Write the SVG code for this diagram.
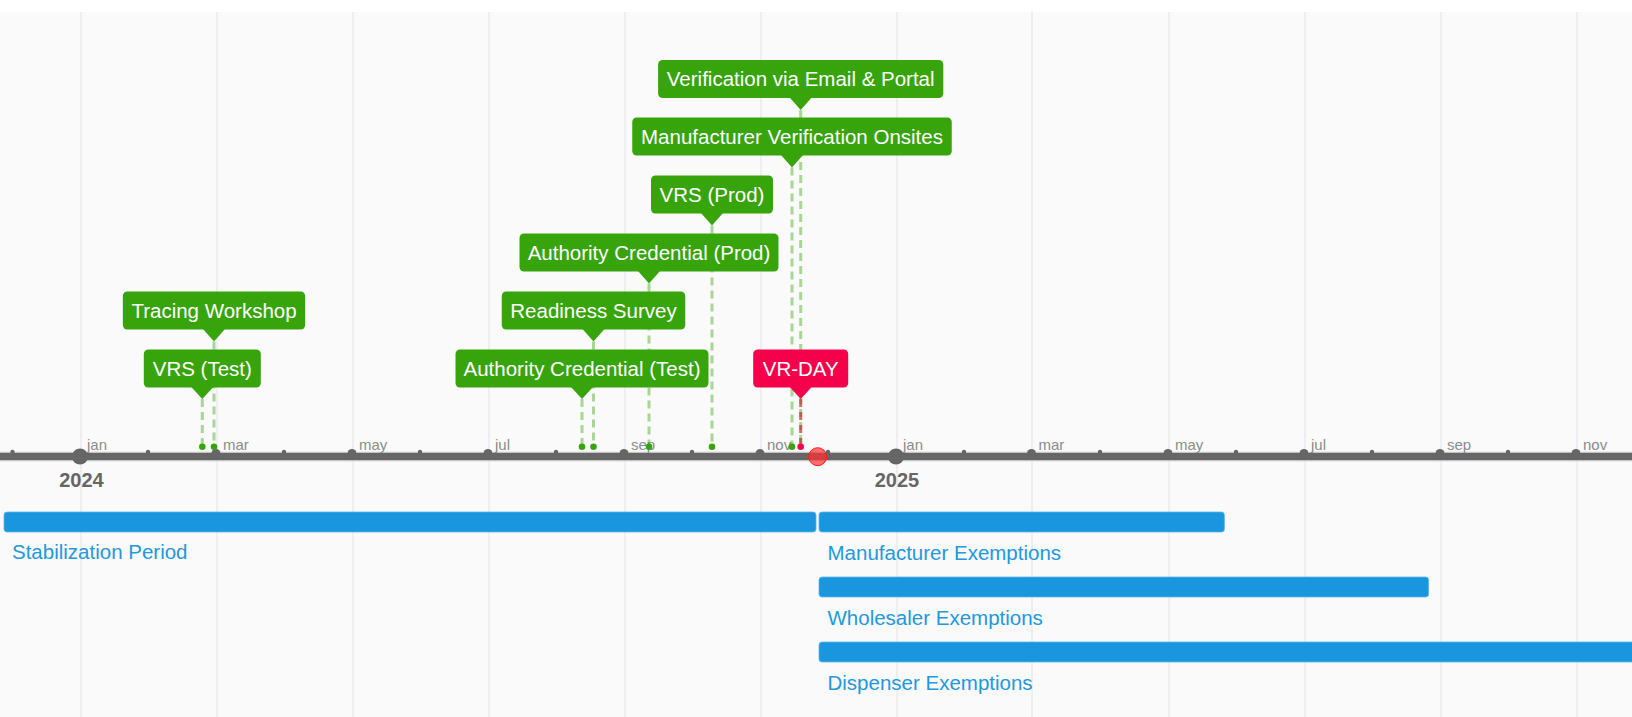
<svg xmlns="http://www.w3.org/2000/svg" width="1632" height="717" viewBox="0 0 1632 717">
<style>
.grid{stroke:#e6e6e6;stroke-width:1.2}
.month{font-family:"Liberation Sans",Arial,sans-serif;font-size:15px;fill:#8c8c8c}
.year{font-family:"Liberation Sans",Arial,sans-serif;font-size:20px;font-weight:bold;fill:#666}
.major{fill:#666}
.minor{fill:#666}
.box{fill:#37a40c}
.boxred{fill:#f5004a}
.btxt{font-family:"Liberation Sans",Arial,sans-serif;font-size:20.5px;fill:#fff;text-anchor:middle}
.conn{stroke:#37a40c;stroke-opacity:0.42;stroke-width:3;stroke-dasharray:8 5;fill:none}
.connred{stroke:#b8322e;stroke-opacity:0.7;stroke-width:3;stroke-dasharray:8 5;fill:none}
.dot{fill:#37a40c}
.dotred{fill:#f5004a}
.bar{fill:#1996dd;stroke:#5bb5ea;stroke-width:0.8}
.btl{font-family:"Liberation Sans",Arial,sans-serif;font-size:20.5px;fill:#2298dd}
</style>
<rect x="0" y="0" width="1632" height="717" fill="#ffffff"/>
<rect x="0" y="12" width="1632" height="705" fill="#fafafa"/>
<g id="grid">
<line class="grid" x1="81" y1="12" x2="81" y2="717"/>
<line class="grid" x1="217" y1="12" x2="217" y2="717"/>
<line class="grid" x1="353" y1="12" x2="353" y2="717"/>
<line class="grid" x1="489" y1="12" x2="489" y2="717"/>
<line class="grid" x1="625" y1="12" x2="625" y2="717"/>
<line class="grid" x1="761" y1="12" x2="761" y2="717"/>
<line class="grid" x1="897" y1="12" x2="897" y2="717"/>
<line class="grid" x1="1032" y1="12" x2="1032" y2="717"/>
<line class="grid" x1="1169" y1="12" x2="1169" y2="717"/>
<line class="grid" x1="1305" y1="12" x2="1305" y2="717"/>
<line class="grid" x1="1441" y1="12" x2="1441" y2="717"/>
<line class="grid" x1="1577" y1="12" x2="1577" y2="717"/>
</g>
<g id="ranges">
<g id="stabilization">
<rect class="bar" x="4" y="512" width="812" height="20" rx="3"/>
<text class="btl" x="12" y="559">Stabilization Period</text>
</g>
<g id="manufacturer-exemptions">
<rect class="bar" x="819" y="512" width="405.4" height="20" rx="3"/>
<text class="btl" x="827.5" y="559.5">Manufacturer Exemptions</text>
</g>
<g id="wholesaler-exemptions">
<rect class="bar" x="819" y="577" width="609.6" height="20" rx="3"/>
<text class="btl" x="827.5" y="624.5">Wholesaler Exemptions</text>
</g>
<g id="dispenser-exemptions">
<rect class="bar" x="819" y="642" width="830" height="20" rx="3"/>
<text class="btl" x="827.5" y="689.5">Dispenser Exemptions</text>
</g>
</g>
<g id="axis">
<line x1="0" y1="456.5" x2="1632" y2="456.5" stroke="#c4c4c4" stroke-width="9.5"/>
<line x1="0" y1="456.5" x2="1632" y2="456.5" stroke="#666" stroke-width="7"/>
<circle class="minor" cx="12.5" cy="452" r="2.2"/>
<circle class="minor" cx="148" cy="452" r="2.2"/>
<circle class="minor" cx="284" cy="452" r="2.2"/>
<circle class="minor" cx="420" cy="452" r="2.2"/>
<circle class="minor" cx="556" cy="452" r="2.2"/>
<circle class="minor" cx="692" cy="452" r="2.2"/>
<circle class="minor" cx="828" cy="452" r="2.2"/>
<circle class="minor" cx="964" cy="452" r="2.2"/>
<circle class="minor" cx="1100" cy="452" r="2.2"/>
<circle class="minor" cx="1236" cy="452" r="2.2"/>
<circle class="minor" cx="1372" cy="452" r="2.2"/>
<circle class="minor" cx="1508" cy="452" r="2.2"/>
<circle class="major" cx="216" cy="453.5" r="4.5"/>
<circle class="major" cx="352" cy="453.5" r="4.5"/>
<circle class="major" cx="488" cy="453.5" r="4.5"/>
<circle class="major" cx="624" cy="453.5" r="4.5"/>
<circle class="major" cx="760" cy="453.5" r="4.5"/>
<circle class="major" cx="1031.5" cy="453.5" r="4.5"/>
<circle class="major" cx="1168" cy="453.5" r="4.5"/>
<circle class="major" cx="1304" cy="453.5" r="4.5"/>
<circle class="major" cx="1440" cy="453.5" r="4.5"/>
<circle class="major" cx="1576" cy="453.5" r="4.5"/>
<circle class="major" cx="80" cy="456.5" r="8"/>
<circle class="major" cx="896" cy="456.5" r="8"/>
<text class="month" x="87" y="449.5">jan</text>
<text class="month" x="223" y="449.5">mar</text>
<text class="month" x="359" y="449.5">may</text>
<text class="month" x="495" y="449.5">jul</text>
<text class="month" x="631" y="449.5">sep</text>
<text class="month" x="767" y="449.5">nov</text>
<text class="month" x="903" y="449.5">jan</text>
<text class="month" x="1038.5" y="449.5">mar</text>
<text class="month" x="1175" y="449.5">may</text>
<text class="month" x="1311" y="449.5">jul</text>
<text class="month" x="1447" y="449.5">sep</text>
<text class="month" x="1583" y="449.5">nov</text>
<text class="year" x="81.5" y="487" text-anchor="middle">2024</text>
<text class="year" x="897" y="487" text-anchor="middle">2025</text>
</g>
<g id="connectors">
<line class="conn" x1="202.3" y1="399" x2="202.3" y2="446.7"/>
<line class="conn" x1="214" y1="341.5" x2="214" y2="446.7"/>
<line class="conn" x1="582" y1="399" x2="582" y2="446.7"/>
<line class="conn" x1="593.5" y1="341.5" x2="593.5" y2="446.7"/>
<line class="conn" x1="649" y1="283.5" x2="649" y2="446.7"/>
<line class="conn" x1="712" y1="225.5" x2="712" y2="446.7"/>
<line class="conn" x1="792" y1="167.5" x2="792" y2="446.7"/>
<line class="conn" x1="800.7" y1="110" x2="800.7" y2="446.7"/>
<line class="connred" x1="800.7" y1="399" x2="800.7" y2="446.7"/>
<circle class="dot" cx="202.3" cy="446.7" r="3.3"/>
<circle class="dot" cx="214" cy="446.7" r="3.3"/>
<circle class="dot" cx="582" cy="446.7" r="3.3"/>
<circle class="dot" cx="593.5" cy="446.7" r="3.3"/>
<circle class="dot" cx="649" cy="446.7" r="3.3"/>
<circle class="dot" cx="712" cy="446.7" r="3.3"/>
<circle class="dot" cx="792" cy="446.7" r="3.3"/>
<circle class="dotred" cx="800.7" cy="446.7" r="3.3"/>
</g>
<circle id="today" cx="817.7" cy="456.7" r="9" fill="#ff3030" fill-opacity="0.7" stroke="#ff1a1a" stroke-width="1"/>
<g id="vrs-test">
<rect class="box" x="143.8" y="349.5" width="117" height="38" rx="4.5"/>
<path class="box" d="M191.3 387 L213.3 387 L202.3 399 Z"/>
<text class="btxt" x="202.3" y="375.8">VRS (Test)</text>
</g>
<g id="tracing-workshop">
<rect class="box" x="122.85" y="291.5" width="182.3" height="38" rx="4.5"/>
<path class="box" d="M203 329 L225 329 L214 341.5 Z"/>
<text class="btxt" x="214" y="317.8">Tracing Workshop</text>
</g>
<g id="authority-credential-test">
<rect class="box" x="455.5" y="349.5" width="253" height="38" rx="4.5"/>
<path class="box" d="M571 387 L593 387 L582 399 Z"/>
<text class="btxt" x="582" y="375.8">Authority Credential (Test)</text>
</g>
<g id="readiness-survey">
<rect class="box" x="501.75" y="291.5" width="183.5" height="38" rx="4.5"/>
<path class="box" d="M582.5 329 L604.5 329 L593.5 341.5 Z"/>
<text class="btxt" x="593.5" y="317.8">Readiness Survey</text>
</g>
<g id="authority-credential-prod">
<rect class="box" x="519.5" y="233.5" width="259" height="38" rx="4.5"/>
<path class="box" d="M638 271 L660 271 L649 283.5 Z"/>
<text class="btxt" x="649" y="259.8">Authority Credential (Prod)</text>
</g>
<g id="vrs-prod">
<rect class="box" x="651" y="175.5" width="122" height="38" rx="4.5"/>
<path class="box" d="M701 213 L723 213 L712 225.5 Z"/>
<text class="btxt" x="712" y="201.8">VRS (Prod)</text>
</g>
<g id="manufacturer-verification-onsites">
<rect class="box" x="632.25" y="117.5" width="319.5" height="38" rx="4.5"/>
<path class="box" d="M781 155 L803 155 L792 167.5 Z"/>
<text class="btxt" x="792" y="143.8">Manufacturer Verification Onsites</text>
</g>
<g id="verification-email-portal">
<rect class="box" x="658.1" y="60" width="285.2" height="38" rx="4.5"/>
<path class="box" d="M789.7 97.5 L811.7 97.5 L800.7 110 Z"/>
<text class="btxt" x="800.7" y="86.3">Verification via Email &amp; Portal</text>
</g>
<g id="vr-day">
<rect class="boxred" x="753.2" y="349.5" width="95" height="38" rx="4.5"/>
<path class="boxred" d="M789.7 387 L811.7 387 L800.7 399 Z"/>
<text class="btxt" x="800.7" y="375.8">VR-DAY</text>
</g>
</svg>
